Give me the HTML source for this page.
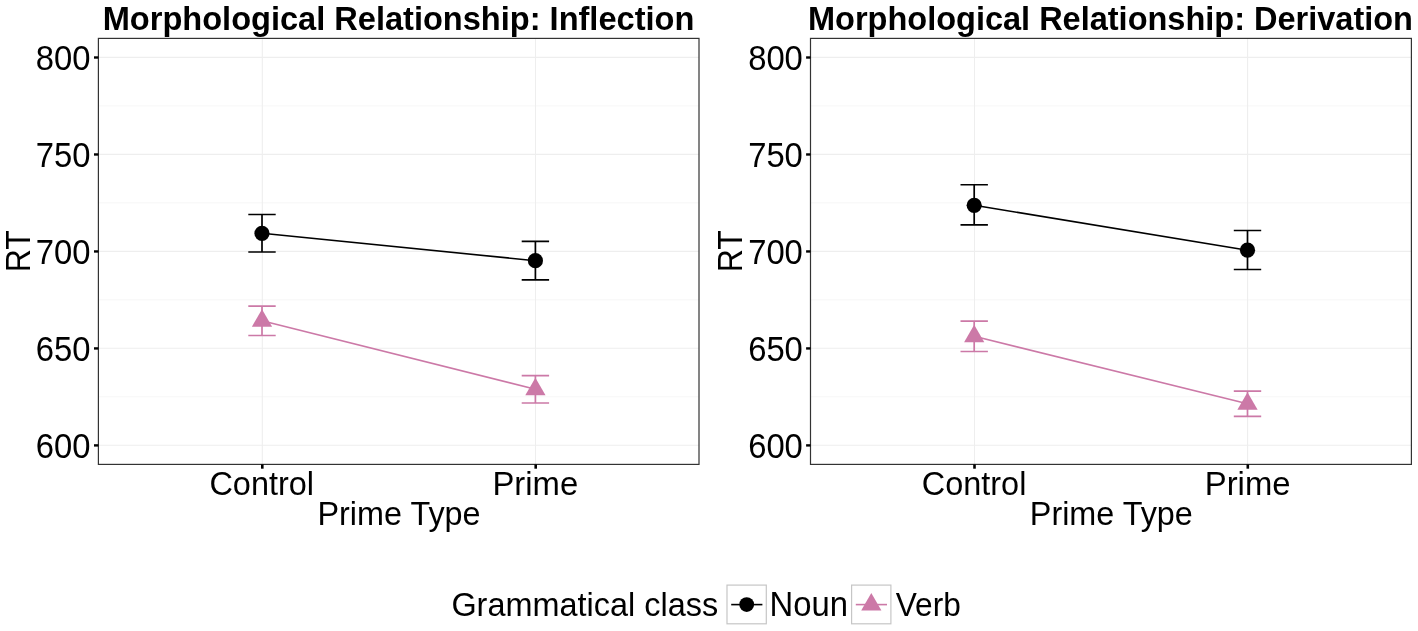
<!DOCTYPE html>
<html><head><meta charset="utf-8"><title>Chart</title>
<style>html,body{margin:0;padding:0;background:#fff}svg{display:block;will-change:transform}text{font-family:"Liberation Sans",sans-serif;font-size:32px;fill:#000}.b{font-weight:bold}</style>
</head><body>
<svg width="1418" height="631" viewBox="0 0 1418 631">
<rect x="0" y="0" width="1418" height="631" fill="#fff"/>
<line x1="98.4" x2="699.0" y1="105.89" y2="105.89" stroke="#eeeeee" stroke-width="0.55"/>
<line x1="98.4" x2="699.0" y1="202.86" y2="202.86" stroke="#eeeeee" stroke-width="0.55"/>
<line x1="98.4" x2="699.0" y1="299.84" y2="299.84" stroke="#eeeeee" stroke-width="0.55"/>
<line x1="98.4" x2="699.0" y1="396.81" y2="396.81" stroke="#eeeeee" stroke-width="0.55"/>
<line x1="98.4" x2="699.0" y1="57.40" y2="57.40" stroke="#eeeeee" stroke-width="1.1"/>
<line x1="98.4" x2="699.0" y1="154.38" y2="154.38" stroke="#eeeeee" stroke-width="1.1"/>
<line x1="98.4" x2="699.0" y1="251.35" y2="251.35" stroke="#eeeeee" stroke-width="1.1"/>
<line x1="98.4" x2="699.0" y1="348.32" y2="348.32" stroke="#eeeeee" stroke-width="1.1"/>
<line x1="98.4" x2="699.0" y1="445.30" y2="445.30" stroke="#eeeeee" stroke-width="1.1"/>
<line x1="262.30" x2="262.30" y1="38.4" y2="464.4" stroke="#eeeeee" stroke-width="1.1"/>
<line x1="535.50" x2="535.50" y1="38.4" y2="464.4" stroke="#eeeeee" stroke-width="1.1"/>
<path d="M248.30 214.50H275.70M262.00 214.50V252.00M248.30 252.00H275.70" stroke="#000" stroke-width="1.7" fill="none"/>
<path d="M521.70 241.40H549.10M535.40 241.40V279.90M521.70 279.90H549.10" stroke="#000" stroke-width="1.7" fill="none"/>
<line x1="262.00" y1="233.30" x2="535.40" y2="260.70" stroke="#000" stroke-width="1.6"/>
<circle cx="262.00" cy="233.30" r="7.6" fill="#000"/>
<circle cx="535.40" cy="260.70" r="7.6" fill="#000"/>
<path d="M248.30 306.10H275.70M262.00 306.10V335.50M248.30 335.50H275.70" stroke="#CC79A7" stroke-width="1.7" fill="none"/>
<path d="M521.70 375.60H549.10M535.40 375.60V403.00M521.70 403.00H549.10" stroke="#CC79A7" stroke-width="1.7" fill="none"/>
<line x1="262.00" y1="320.80" x2="535.40" y2="389.30" stroke="#CC79A7" stroke-width="1.6"/>
<polygon points="262.00,309.13 272.11,326.63 251.89,326.63" fill="#CC79A7"/>
<polygon points="535.40,377.63 545.51,395.13 525.29,395.13" fill="#CC79A7"/>
<rect x="98.4" y="38.4" width="600.60" height="426.00" fill="none" stroke="#333" stroke-width="1.2"/>
<line x1="94.00" x2="98.40" y1="57.50" y2="57.50" stroke="#000" stroke-width="2.4"/>
<text transform="matrix(1.0250 0 0 1.0900 35.84 69.70)">800</text>
<line x1="94.00" x2="98.40" y1="154.47" y2="154.47" stroke="#000" stroke-width="2.4"/>
<text transform="matrix(1.0250 0 0 1.0900 35.84 166.68)">750</text>
<line x1="94.00" x2="98.40" y1="251.45" y2="251.45" stroke="#000" stroke-width="2.4"/>
<text transform="matrix(1.0250 0 0 1.0900 35.84 263.65)">700</text>
<line x1="94.00" x2="98.40" y1="348.43" y2="348.43" stroke="#000" stroke-width="2.4"/>
<text transform="matrix(1.0250 0 0 1.0900 35.84 360.62)">650</text>
<line x1="94.00" x2="98.40" y1="445.40" y2="445.40" stroke="#000" stroke-width="2.4"/>
<text transform="matrix(1.0250 0 0 1.0900 35.84 457.60)">600</text>
<line x1="262.30" x2="262.30" y1="464.4" y2="468.70" stroke="#000" stroke-width="2.6"/>
<line x1="535.70" x2="535.70" y1="464.4" y2="468.70" stroke="#000" stroke-width="2.6"/>
<text transform="matrix(1.0146 0 0 1.0220 209.42 495.00)">Control</text>
<text transform="matrix(1.0259 0 0 1.0220 492.48 495.00)">Prime</text>
<text transform="matrix(1.0115 0 0 1.0450 317.52 524.90)">Prime Type</text>
<text transform="translate(30.00,272.26) rotate(-90) scale(1.0026,1.0818)">RT</text>
<text class="b" transform="matrix(1.0184 0 0 1.0550 102.71 30.10)">Morphological Relationship: Inflection</text>
<line x1="810.5" x2="1411.4" y1="105.89" y2="105.89" stroke="#eeeeee" stroke-width="0.55"/>
<line x1="810.5" x2="1411.4" y1="202.86" y2="202.86" stroke="#eeeeee" stroke-width="0.55"/>
<line x1="810.5" x2="1411.4" y1="299.84" y2="299.84" stroke="#eeeeee" stroke-width="0.55"/>
<line x1="810.5" x2="1411.4" y1="396.81" y2="396.81" stroke="#eeeeee" stroke-width="0.55"/>
<line x1="810.5" x2="1411.4" y1="57.40" y2="57.40" stroke="#eeeeee" stroke-width="1.1"/>
<line x1="810.5" x2="1411.4" y1="154.38" y2="154.38" stroke="#eeeeee" stroke-width="1.1"/>
<line x1="810.5" x2="1411.4" y1="251.35" y2="251.35" stroke="#eeeeee" stroke-width="1.1"/>
<line x1="810.5" x2="1411.4" y1="348.32" y2="348.32" stroke="#eeeeee" stroke-width="1.1"/>
<line x1="810.5" x2="1411.4" y1="445.30" y2="445.30" stroke="#eeeeee" stroke-width="1.1"/>
<line x1="974.50" x2="974.50" y1="38.4" y2="464.4" stroke="#eeeeee" stroke-width="1.1"/>
<line x1="1247.60" x2="1247.60" y1="38.4" y2="464.4" stroke="#eeeeee" stroke-width="1.1"/>
<path d="M960.50 184.75H987.90M974.20 184.75V224.90M960.50 224.90H987.90" stroke="#000" stroke-width="1.7" fill="none"/>
<path d="M1233.80 230.50H1261.20M1247.50 230.50V269.50M1233.80 269.50H1261.20" stroke="#000" stroke-width="1.7" fill="none"/>
<line x1="974.20" y1="205.30" x2="1247.50" y2="250.20" stroke="#000" stroke-width="1.6"/>
<circle cx="974.20" cy="205.30" r="7.6" fill="#000"/>
<circle cx="1247.50" cy="250.20" r="7.6" fill="#000"/>
<path d="M960.50 321.10H987.90M974.20 321.10V351.50M960.50 351.50H987.90" stroke="#CC79A7" stroke-width="1.7" fill="none"/>
<path d="M1233.80 391.20H1261.20M1247.50 391.20V416.40M1233.80 416.40H1261.20" stroke="#CC79A7" stroke-width="1.7" fill="none"/>
<line x1="974.20" y1="336.30" x2="1247.50" y2="403.80" stroke="#CC79A7" stroke-width="1.6"/>
<polygon points="974.20,324.63 984.31,342.13 964.09,342.13" fill="#CC79A7"/>
<polygon points="1247.50,392.13 1257.61,409.63 1237.39,409.63" fill="#CC79A7"/>
<rect x="810.5" y="38.4" width="600.90" height="426.00" fill="none" stroke="#333" stroke-width="1.2"/>
<line x1="806.10" x2="810.50" y1="57.50" y2="57.50" stroke="#000" stroke-width="2.4"/>
<text transform="matrix(1.0250 0 0 1.0900 748.14 69.70)">800</text>
<line x1="806.10" x2="810.50" y1="154.47" y2="154.47" stroke="#000" stroke-width="2.4"/>
<text transform="matrix(1.0250 0 0 1.0900 748.14 166.68)">750</text>
<line x1="806.10" x2="810.50" y1="251.45" y2="251.45" stroke="#000" stroke-width="2.4"/>
<text transform="matrix(1.0250 0 0 1.0900 748.14 263.65)">700</text>
<line x1="806.10" x2="810.50" y1="348.43" y2="348.43" stroke="#000" stroke-width="2.4"/>
<text transform="matrix(1.0250 0 0 1.0900 748.14 360.62)">650</text>
<line x1="806.10" x2="810.50" y1="445.40" y2="445.40" stroke="#000" stroke-width="2.4"/>
<text transform="matrix(1.0250 0 0 1.0900 748.14 457.60)">600</text>
<line x1="974.50" x2="974.50" y1="464.4" y2="468.70" stroke="#000" stroke-width="2.6"/>
<line x1="1247.80" x2="1247.80" y1="464.4" y2="468.70" stroke="#000" stroke-width="2.6"/>
<text transform="matrix(1.0146 0 0 1.0220 921.72 495.00)">Control</text>
<text transform="matrix(1.0259 0 0 1.0220 1204.78 495.00)">Prime</text>
<text transform="matrix(1.0115 0 0 1.0450 1029.82 524.90)">Prime Type</text>
<text transform="translate(742.30,272.26) rotate(-90) scale(1.0026,1.0818)">RT</text>
<text class="b" transform="matrix(1.0165 0 0 1.0550 808.01 30.10)">Morphological Relationship: Derivation</text>
<text transform="matrix(1.0138 0 0 1.0650 451.38 616.30)">Grammatical class</text>
<rect x="727.0" y="585.1" width="39.3" height="38.7" fill="#fff" stroke="#c6c6c6" stroke-width="1.2"/>
<line x1="731.20" x2="762.40" y1="604.6" y2="604.6" stroke="#000" stroke-width="1.6"/>
<circle cx="746.70" cy="604.6" r="7.4" fill="#000"/>
<rect x="851.6" y="585.1" width="39.3" height="38.7" fill="#fff" stroke="#c6c6c6" stroke-width="1.2"/>
<line x1="855.80" x2="887.00" y1="604.6" y2="604.6" stroke="#CC79A7" stroke-width="1.6"/>
<polygon points="871.30,593.03 881.41,610.54 861.19,610.54" fill="#CC79A7"/>
<text transform="matrix(1.0258 0 0 1.0850 769.58 616.15)">Noun</text>
<text transform="matrix(0.9883 0 0 1.0400 895.75 616.20)">Verb</text>
</svg></body></html>
